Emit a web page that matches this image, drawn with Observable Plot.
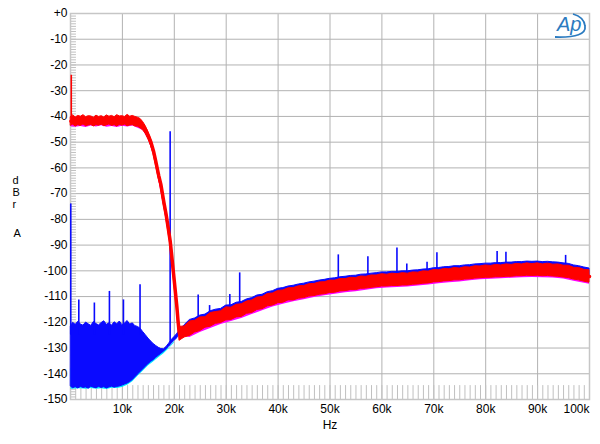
<!DOCTYPE html>
<html><head><meta charset="utf-8">
<script src="https://cdn.jsdelivr.net/npm/d3@7"></script>
<script src="https://cdn.jsdelivr.net/npm/@observablehq/plot@0.6"></script>
<style>body{margin:0;background:#fff}#chart{position:absolute;left:0;top:0}</style>
</head><body><div id="chart"></div>
<script>
// ---- axis ticks (kHz / dB) ----
const xTicks = [10, 20, 30, 40, 50, 60, 70, 80, 90];
const xLastLabel = "100k";
const yTicks = [0, -10, -20, -30, -40, -50, -60, -70, -80, -90, -100, -110, -120, -130, -140, -150];
const yGrid = [-10, -20, -30, -40, -50, -60, -70, -80, -90, -100, -110, -120, -130, -140];
const xMinor = d3.range(1, 100, 1);
const yMinor = d3.range(-149, 0, 1);

// ---- red trace (kHz, dB envelope) ----
const redF = [0.1,0.5,1,1.5,2,2.5,3,3.5,4,4.5,5,5.5,6,6.5,7,7.5,8,8.5,9,9.5,10,10.5,11,11.5,12,12.5,13,13.5,
  14,14.5,15,15.5,16,16.4,17,17.4,18,18.4,18.8,19.2,19.5,19.85,20.2,20.5,20.7,20.9,
  21,22,23,24,25,26,27,28,29,30,31,32,33,34,35,36,37,38,39,40,41,42,43,44,45,46,47,48,49,50,
  51,52,53,54,55,56,57,58,59,60,61,62,63,64,65,66,67,68,69,70,71,72,73,74,75,76,77,78,79,80,
  81,82,83,84,85,86,87,88,89,90,91,92,93,94,95,96,97,98,99,100];
const redHi = [-40.2,-39.6,-40.4,-39.8,-40.1,-39.5,-40.3,-39.9,-40.0,-40.5,-39.7,-40.2,-39.9,-40.4,-39.6,-40.1,-39.8,-40.3,-39.5,-40.0,-39.9,-40.2,-39.4,-40.1,-39.8,-40.2,-40.5,-41.0,
  -42.2,-43.8,-46.1,-48.7,-52.3,-56.0,-61.8,-65.1,-72.3,-76.6,-81.8,-87.1,-92.8,-99.8,-106.8,-112.8,-117.8,-122.0,
  -121.8,-121.6,-119.7,-119.4,-118.1,-118.0,-116.4,-116.0,-115.7,-114.2,
  -114.3,-113.2,-113.0,-111.9,-111.5,-110.4,-110.2,-109.0,-108.8,-107.8,
  -107.6,-106.8,-106.7,-106.0,-105.9,-105.2,-105.1,-104.5,-104.4,-103.8,
  -103.8,-103.2,-103.2,-102.7,-102.8,-102.2,-102.3,-101.8,-101.8,-101.3,
  -101.5,-101.1,-101.3,-100.9,-101.1,-100.6,-100.7,-100.2,-100.3,-99.7,
  -99.8,-99.3,-99.4,-98.9,-99.1,-98.6,-98.7,-98.2,-98.3,-97.9,
  -98.1,-97.7,-97.9,-97.5,-97.7,-97.3,-97.5,-97.1,-97.4,-97.1,
  -97.5,-97.2,-97.6,-97.5,-98.0,-98.0,-98.8,-98.9,-99.6,-99.8];
const redLo = [-43.6,-43.2,-43.9,-43.4,-43.7,-43.1,-43.8,-43.5,-43.3,-43.9,-43.4,-43.6,-43.2,-43.8,-43.5,-43.1,-43.7,-43.4,-43.9,-43.3,-43.6,-43.2,-43.8,-43.5,-43.4,-43.9,-44.0,-44.6,
  -45.4,-46.8,-48.9,-51.3,-54.7,-58.4,-64.2,-67.5,-74.7,-79.0,-84.2,-89.5,-95.2,-102.2,-109.2,-115.2,-120.2,-124.4,
  -127.2,-125.9,-125.3,-124.0,-123.4,-122.1,-121.7,-120.6,-120.3,-119.3,
  -119.1,-118.1,-117.9,-116.7,-116.4,-115.2,-114.9,-113.8,-113.5,-112.6,
  -112.4,-111.5,-111.5,-110.8,-110.6,-110.0,-109.8,-109.3,-109.1,-108.6,
  -108.5,-108.0,-107.9,-107.5,-107.5,-107.0,-106.9,-106.6,-106.4,-106.1,
  -106.1,-105.9,-105.9,-105.7,-105.7,-105.4,-105.3,-105.0,-104.9,-104.5,
  -104.4,-104.1,-104.0,-103.7,-103.7,-103.4,-103.3,-103.0,-102.9,-102.7,
  -102.7,-102.5,-102.5,-102.3,-102.3,-102.1,-102.1,-101.9,-102.0,-101.9,
  -102.1,-102.0,-102.2,-102.3,-102.6,-102.8,-103.4,-103.7,-104.2,-104.6];
const redSpikeF = [0.15];
const redSpikeTop = [-24];
const redSpikeBase = [-41];

// ---- magenta trace (under red) ----
const magF = [0.1,1,2,3,4,5,6,7,8,9,10,11,12,13,14,15,16,17,18,19,20,20.9,
  23,25,27,29,31,33,35,37,39,41,43,45,47,49,51,53,55,57,59,61,63,65,67,69,71,73,75,77,79,81,83,85,87,89,91,93,95,97,99,100];
const magLo = [-44.0,-44.2,-43.9,-44.3,-43.7,-44.1,-43.6,-44.2,-43.9,-44.3,-43.8,-44.1,-43.7,-44.6,-45.5,-49.0,-54.8,-64.8,-75.3,-86.6,-104.6,-125.0,
  -125.9,-124.0,-122.4,-120.9,-119.7,-118.5,-117.0,-115.5,-114.1,-113.0,-112.0,-111.2,-110.4,-109.7,-109.1,-108.5,-108.1,-107.5,-107.0,
  -106.7,-106.5,-106.3,-105.9,-105.5,-105.0,-104.6,-104.3,-103.9,-103.5,-103.3,-103.1,-102.9,-102.7,-102.6,-102.7,-102.8,-103.2,-104.0,-104.8,-105.2];
const magHi = [-41,-41,-41,-41,-41,-41,-41,-41,-41,-41,-41,-41,-41,-41.5,-43.5,-47.5,-53.5,-63,-73.5,-85.0,-103.5,-123.2,
  -122.6,-120.6,-119,-117.6,-116.4,-115.2,-113.7,-112.3,-110.9,-109.8,-108.9,-108.1,-107.3,-106.6,-106,-105.4,-105,-104.5,-104,
  -103.7,-103.5,-103.3,-102.9,-102.5,-102,-101.6,-101.3,-100.9,-100.5,-100.3,-100.1,-99.9,-99.7,-99.6,-99.7,-99.8,-100.2,-101,-101.8,-102.3];

// ---- blue trace (kHz, dB envelope) ----
const blueF = [0.1,0.5,1,1.5,2,2.5,3,3.5,4,4.5,5,5.5,6,6.5,7,7.5,8,8.5,9,9.5,10,10.5,11,11.5,12,12.5,13,13.5,14,14.5,15,15.5,16,16.5,17,17.5,18,18.5,19,19.5,20,20.5,
  21,22,23,24,25,26,27,28,29,30,31,32,33,34,35,36,37,38,39,40,41,42,43,44,45,46,47,48,49,50,
  51,52,53,54,55,56,57,58,59,60,61,62,63,64,65,66,67,68,69,70,71,72,73,74,75,76,77,78,79,80,
  81,82,83,84,85,86,87,88,89,90,91,92,93,94,95,96,97,98,99,100];
const blueHi = [-121.5,-120.2,-121.0,-119.8,-120.9,-121.3,-120.1,-120.8,-121.4,-119.9,-120.7,-121.2,-120.3,-119.6,-121.0,-120.4,-121.3,-120.0,-120.8,-119.7,
  -121.1,-120.5,-119.5,-120.9,-120.4,-121.5,-121.8,-122.5,-123.8,-125.0,-126.3,-127.4,-128.4,-129.2,-129.9,-130.4,-130.5,-129.6,-128.3,-126.9,-125.8,-124.7,
  -123.3,-121.1,-119.1,-118.5,-117.4,-117.0,-115.7,-115.1,-114.8,-113.5,
  -113.4,-112.4,-112.1,-111.1,-110.6,-109.6,-109.3,-108.3,-107.9,-107.0,
  -106.7,-106.1,-105.8,-105.3,-105.0,-104.5,-104.2,-103.8,-103.5,-103.1,
  -102.9,-102.5,-102.3,-102.0,-101.9,-101.5,-101.4,-101.1,-100.9,-100.6,
  -100.6,-100.4,-100.4,-100.2,-100.2,-99.9,-99.8,-99.5,-99.4,-99.0,
  -98.9,-98.6,-98.5,-98.2,-98.2,-97.9,-97.8,-97.5,-97.4,-97.2,
  -97.2,-97.0,-97.0,-96.8,-96.8,-96.6,-96.6,-96.4,-96.5,-96.4,
  -96.6,-96.5,-96.7,-96.8,-97.1,-97.3,-97.9,-98.2,-98.7,-99.1];
const blueLo = [-145.0,-145.6,-145.2,-145.7,-145.1,-145.5,-145.3,-145.8,-145.0,-145.4,-145.6,-145.1,-145.5,-145.2,-145.7,-145.3,-145.0,-145.4,-145.1,-144.9,
  -144.6,-144.2,-143.8,-143.2,-142.4,-141.4,-140.3,-139.3,-138.3,-137.3,-136.3,-135.4,-134.7,-133.8,-133.0,-132.2,-131.4,-130.5,-129.5,-128.3,-127.2,-126.4,
  -124.5,-123.6,-122.6,-121.6,-120.6,-119.8,-119.0,-118.3,-117.6,-117.0,
  -116.4,-115.8,-115.2,-114.4,-113.7,-113.0,-112.3,-111.6,-110.9,-110.3,
  -109.8,-109.3,-108.9,-108.5,-108.1,-107.7,-107.3,-107.0,-106.6,-106.3,
  -106.0,-105.7,-105.4,-105.2,-105.0,-104.7,-104.5,-104.3,-104.0,-103.8,
  -103.7,-103.6,-103.5,-103.4,-103.3,-103.1,-102.9,-102.7,-102.5,-102.2,
  -102.0,-101.8,-101.6,-101.4,-101.3,-101.1,-100.9,-100.7,-100.5,-100.4,
  -100.3,-100.2,-100.1,-100.0,-99.9,-99.8,-99.7,-99.6,-99.6,-99.6,
  -99.7,-99.7,-99.8,-100.0,-100.2,-100.5,-101.0,-101.4,-101.8,-102.3];
const spikeF    = [0.05, 1.6, 4.6, 7.5, 10.2, 13.4, 19.2, 24.6, 26.8, 30.7, 32.6, 51.6, 57.3, 62.9, 64.8, 68.7, 70.6, 82.2, 83.9, 95.4];
const spikeTop  = [-74, -111.3, -112.5, -108, -111.3, -105.4, -46, -109.4, -113.5, -109.2, -100.8, -93.8, -94.5, -91.1, -97.3, -96.7, -93, -92.5, -92.8, -94];
const spikeBase = [-125, -125, -125, -125, -125, -125, -128, -120, -119, -116, -115, -105, -104, -103, -103, -102, -101, -99, -99, -99];

// ---- cyan trace (under blue) ----
const cyanF  = [0.1, 1, 2, 3, 4, 5, 6, 7, 8, 9, 10, 11, 12, 13, 14, 15, 16, 17, 18, 19, 20];
const cyanLo = [-146.0, -145.9, -145.8, -146.0, -145.7, -146.0, -145.8, -146.1, -145.6, -145.7, -145.3, -144.5, -143.1, -141.0, -139.0, -137.0, -135.4, -133.8, -132.2, -130.3, -128.0];
const cyanHi = [-138, -138, -138, -138, -138, -138, -138, -138, -138, -138, -138, -138, -137, -135, -134, -133, -132, -131.5, -131, -130, -127.5];

const BLUE = "#0a0aff", RED = "#ff0000", MAG = "#ff00ff", CYAN = "#00e5ff";
const redMid = redF.map((_, i) => (redHi[i] + redLo[i]) / 2);
const font = "'Liberation Sans', Arial, sans-serif";

const plot = Plot.plot({
  width: 600, height: 444,
  marginLeft: 70, marginRight: 11, marginTop: 13, marginBottom: 45,
  style: {fontFamily: font, fontSize: "12px", background: "#fff", color: "#000"},
  x: {domain: [0, 100], axis: null},
  y: {domain: [-150, 0], axis: null},
  marks: [
    Plot.gridX(xTicks, {stroke: "#b2b2b2", strokeOpacity: 1}),
    Plot.gridY(yGrid, {stroke: "#b2b2b2", strokeOpacity: 1}),
    Plot.ruleX(xMinor, {x: d => d, y1: -150, y2: -144.6, stroke: "#c0c0c0"}),
    Plot.ruleY(yMinor, {y: d => d, x1: 0, x2: 1.15, stroke: "#c0c0c0"}),
    Plot.frame({stroke: "#c6c6c6", strokeWidth: 1.5}),
    Plot.areaY(cyanF, {x: cyanF, y1: cyanLo, y2: cyanHi, fill: CYAN}),
    Plot.areaY(blueF, {x: blueF, y1: blueLo, y2: blueHi, fill: BLUE, stroke: BLUE, strokeWidth: 1}),
    Plot.ruleX(spikeF, {x: spikeF, y1: spikeBase, y2: spikeTop, stroke: BLUE, strokeWidth: 1.6}),
    Plot.areaY(magF, {x: magF, y1: magLo, y2: magHi, fill: MAG}),
    Plot.areaY(redF, {x: redF, y1: redLo, y2: redHi, fill: RED, stroke: RED, strokeWidth: 1}),
    Plot.line(redF, {x: redF, y: redMid, stroke: RED, strokeWidth: 3.5}),
    Plot.ruleX(redSpikeF, {x: redSpikeF, y1: redSpikeBase, y2: redSpikeTop, stroke: RED, strokeWidth: 1.6}),
    Plot.axisY(yTicks, {tickSize: 0, tickPadding: 3, label: null, fontSize: 12,
      tickFormat: d => d === 0 ? "+0" : String(d)}),
    Plot.axisX(xTicks, {tickSize: 0, tickPadding: 5, label: null, fontSize: 12, tickFormat: d => d + "k"}),
    Plot.text([xLastLabel], {x: 100, y: -150, textAnchor: "end", lineAnchor: "top", dy: 5, fontSize: 12}),
    Plot.text(["d"], {frameAnchor: "left", dx: -58, dy: -26, fontSize: 11}),
    Plot.text(["B"], {frameAnchor: "left", dx: -58, dy: -14, fontSize: 11}),
    Plot.text(["r"], {frameAnchor: "left", dx: -58, dy: -2, fontSize: 11}),
    Plot.text(["A"], {frameAnchor: "left", dx: -57, dy: 27, fontSize: 11}),
    Plot.text(["Hz"], {frameAnchor: "bottom", dy: 29, fontSize: 12}),
    Plot.text(["Ap"], {frameAnchor: "top-right", dx: -8, dy: 3, lineAnchor: "top", fontSize: 20,
      fontStyle: "italic", fill: "#2b7bc0"})
  ]
});
d3.select(plot).append("path")
  .attr("d", "M555,37 Q587,38 585,26 Q584,17 573,14")
  .attr("fill", "none").attr("stroke", "#2b7bc0").attr("stroke-width", 1.8);
document.getElementById("chart").append(plot);
</script>
</body></html>
